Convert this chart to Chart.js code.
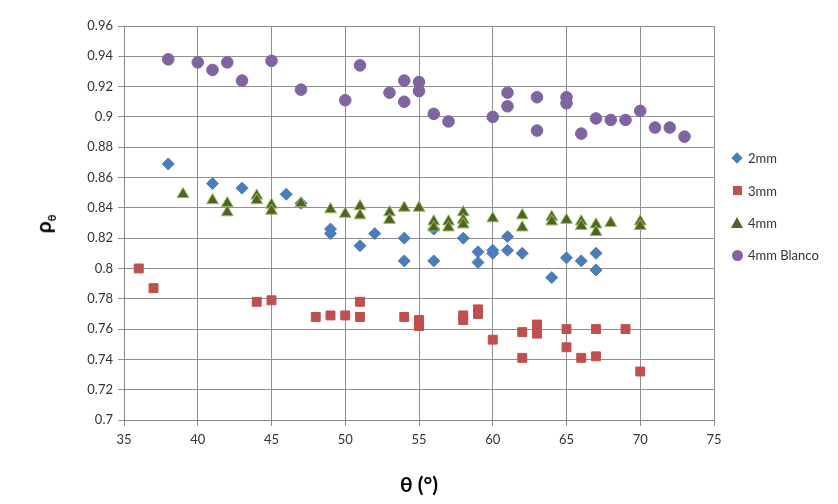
<!DOCTYPE html>
<html>
<head>
<meta charset="utf-8">
<script src="https://cdn.jsdelivr.net/npm/chart.js@4/dist/chart.umd.min.js"></script>
<style>
  body { margin: 0; background: #fff; }
  #wrap { position: relative; width: 838px; height: 504px; }
  #ytitle {
    position: absolute; left: 44px; top: 224px;
    transform: translate(-50%, -50%) rotate(-90deg);
    font: bold 21px Lato, sans-serif; color: #000; white-space: nowrap;
  }
  #ytitle sub { font-size: 11px; }
  #legend { position: absolute; left: 731px; top: 142px; font: 13px Lato, sans-serif; color: #333; }
  #legend .row { height: 32.4px; display: flex; align-items: center; }
  #legend .ic { width: 12px; height: 12px; margin-right: 5px; position: relative; }
  #legend .ic i { position: absolute; display: block; }
</style>
</head>
<body>
<div id="wrap">
  <canvas id="chart" width="838" height="504"></canvas>
  <div id="ytitle">ρ<sub>θ</sub></div>
  <div id="legend"></div>
</div>
<script>
// tick labels
const xTicks = [35, 40, 45, 50, 55, 60, 65, 70, 75];
const yTicks = [0.7, 0.72, 0.74, 0.76, 0.78, 0.8, 0.82, 0.84, 0.86, 0.88, 0.9, 0.92, 0.94, 0.96];

// 2mm
const x2mm = [38, 41, 43, 46, 47, 49, 49, 51, 52, 54, 54, 56, 56, 58, 59, 59, 60, 60, 61, 61, 62, 64, 65, 66, 67, 67];
const y2mm = [0.869, 0.856, 0.853, 0.849, 0.843, 0.826, 0.823, 0.815, 0.823, 0.820, 0.805, 0.826, 0.805, 0.820, 0.811, 0.804, 0.812, 0.810, 0.821, 0.812, 0.810, 0.794, 0.807, 0.805, 0.810, 0.799];

// 3mm
const x3mm = [36, 37, 44, 45, 48, 49, 50, 51, 51, 54, 55, 55, 58, 58, 59, 59, 60, 62, 62, 63, 63, 65, 65, 66, 67, 67, 69, 70];
const y3mm = [0.800, 0.787, 0.778, 0.779, 0.768, 0.769, 0.769, 0.778, 0.768, 0.768, 0.766, 0.762, 0.769, 0.766, 0.773, 0.770, 0.753, 0.758, 0.741, 0.763, 0.757, 0.760, 0.748, 0.741, 0.760, 0.742, 0.760, 0.732];

// 4mm
const x4mm = [39, 41, 42, 42, 44, 44, 45, 45, 47, 49, 50, 51, 51, 53, 53, 54, 55, 56, 56, 57, 57, 58, 58, 58, 60, 62, 62, 64, 64, 65, 66, 66, 67, 67, 68, 70, 70];
const y4mm = [0.849, 0.845, 0.843, 0.837, 0.848, 0.845, 0.842, 0.838, 0.843, 0.839, 0.836, 0.841, 0.835, 0.837, 0.832, 0.840, 0.840, 0.831, 0.827, 0.831, 0.827, 0.837, 0.832, 0.829, 0.833, 0.835, 0.827, 0.834, 0.831, 0.832, 0.831, 0.828, 0.829, 0.824, 0.830, 0.831, 0.828];

// 4mm Blanco
const xBlanco = [38, 40, 41, 42, 43, 45, 47, 50, 51, 53, 54, 54, 55, 55, 56, 57, 60, 61, 61, 63, 63, 65, 65, 66, 67, 68, 69, 70, 71, 72, 73];
const yBlanco = [0.938, 0.936, 0.931, 0.936, 0.924, 0.937, 0.918, 0.911, 0.934, 0.916, 0.924, 0.910, 0.923, 0.917, 0.902, 0.897, 0.900, 0.916, 0.907, 0.913, 0.891, 0.913, 0.909, 0.889, 0.899, 0.898, 0.898, 0.904, 0.893, 0.893, 0.887];

const COLORS = {
  blue: "#4A7EBB",
  red: "#C0504D",
  green: "#4F6228",
  greenEdge: "#9BBB59",
  purple: "#8064A2",
  grid: "#8f8f8f",
  axis: "#868686",
  text: "#333"
};

const pts = (xs, ys) => xs.map((x, i) => ({ x, y: ys[i] }));

Chart.defaults.font.family = "Lato, sans-serif";

const datasets = [
  { label: "2mm", data: pts(x2mm, y2mm), pointStyle: "rectRot", pointRadius: 6, backgroundColor: COLORS.blue, borderColor: COLORS.blue, borderWidth: 1, order: 4 },
  { label: "3mm", data: pts(x3mm, y3mm), pointStyle: "rect", pointRadius: 6.3, backgroundColor: COLORS.red, borderColor: COLORS.red, borderWidth: 1, order: 3 },
  { label: "4mm", data: pts(x4mm, y4mm), pointStyle: "triangle", pointRadius: 6.8, backgroundColor: COLORS.green, borderColor: COLORS.greenEdge, borderWidth: 1, order: 2 },
  { label: "4mm Blanco", data: pts(xBlanco, yBlanco), pointStyle: "circle", pointRadius: 5.8, backgroundColor: COLORS.purple, borderColor: COLORS.purple, borderWidth: 1, order: 1 }
];

new Chart(document.getElementById("chart"), {
  type: "scatter",
  data: { datasets },
  options: {
    responsive: false,
    animation: false,
    layout: { padding: { top: 26, right: 124, left: 0, bottom: 0 } },
    plugins: { legend: { display: false }, tooltip: { enabled: false } },
    scales: {
      x: {
        type: "linear", min: 35, max: 75,
        afterBuildTicks: s => { s.ticks = xTicks.map(v => ({ value: v })); },
        afterFit: s => { s.height = 84; },
        grid: { color: COLORS.grid, tickLength: 6 },
        border: { color: COLORS.axis },
        ticks: { color: COLORS.text, font: { size: 13 }, padding: 6, maxRotation: 0, callback: v => String(v) },
        title: { display: true, text: "θ (°)", color: "#000", font: { size: 21, weight: "bold" }, padding: { top: 4, bottom: 6 } }
      },
      y: {
        type: "linear", min: 0.7, max: 0.96,
        afterBuildTicks: s => { s.ticks = yTicks.map(v => ({ value: v })); },
        afterFit: s => { s.width = 124; },
        grid: { color: COLORS.grid, tickLength: 6 },
        border: { color: COLORS.axis },
        ticks: { color: COLORS.text, font: { size: 13 }, padding: 5, callback: v => String(v) }
      }
    }
  }
});

// legend in HTML, shapes mirror the dataset styles
const legend = document.getElementById("legend");
const shapes = {
  rectRot: c => `<i style="left:2px;top:2px;width:8px;height:8px;background:${c};transform:rotate(45deg)"></i>`,
  rect: c => `<i style="left:1.5px;top:1.5px;width:9px;height:9px;background:${c}"></i>`,
  triangle: c => `<i style="left:0;top:0;width:0;height:0;border-left:6px solid transparent;border-right:6px solid transparent;border-bottom:11px solid ${c}"></i>`,
  circle: c => `<i style="left:0.5px;top:0.5px;width:11px;height:11px;border-radius:50%;background:${c}"></i>`
};
datasets.forEach(d => {
  const row = document.createElement("div");
  row.className = "row";
  row.innerHTML = `<span class="ic">${shapes[d.pointStyle](d.backgroundColor)}</span><span>${d.label}</span>`;
  legend.appendChild(row);
});
</script>
</body>
</html>
